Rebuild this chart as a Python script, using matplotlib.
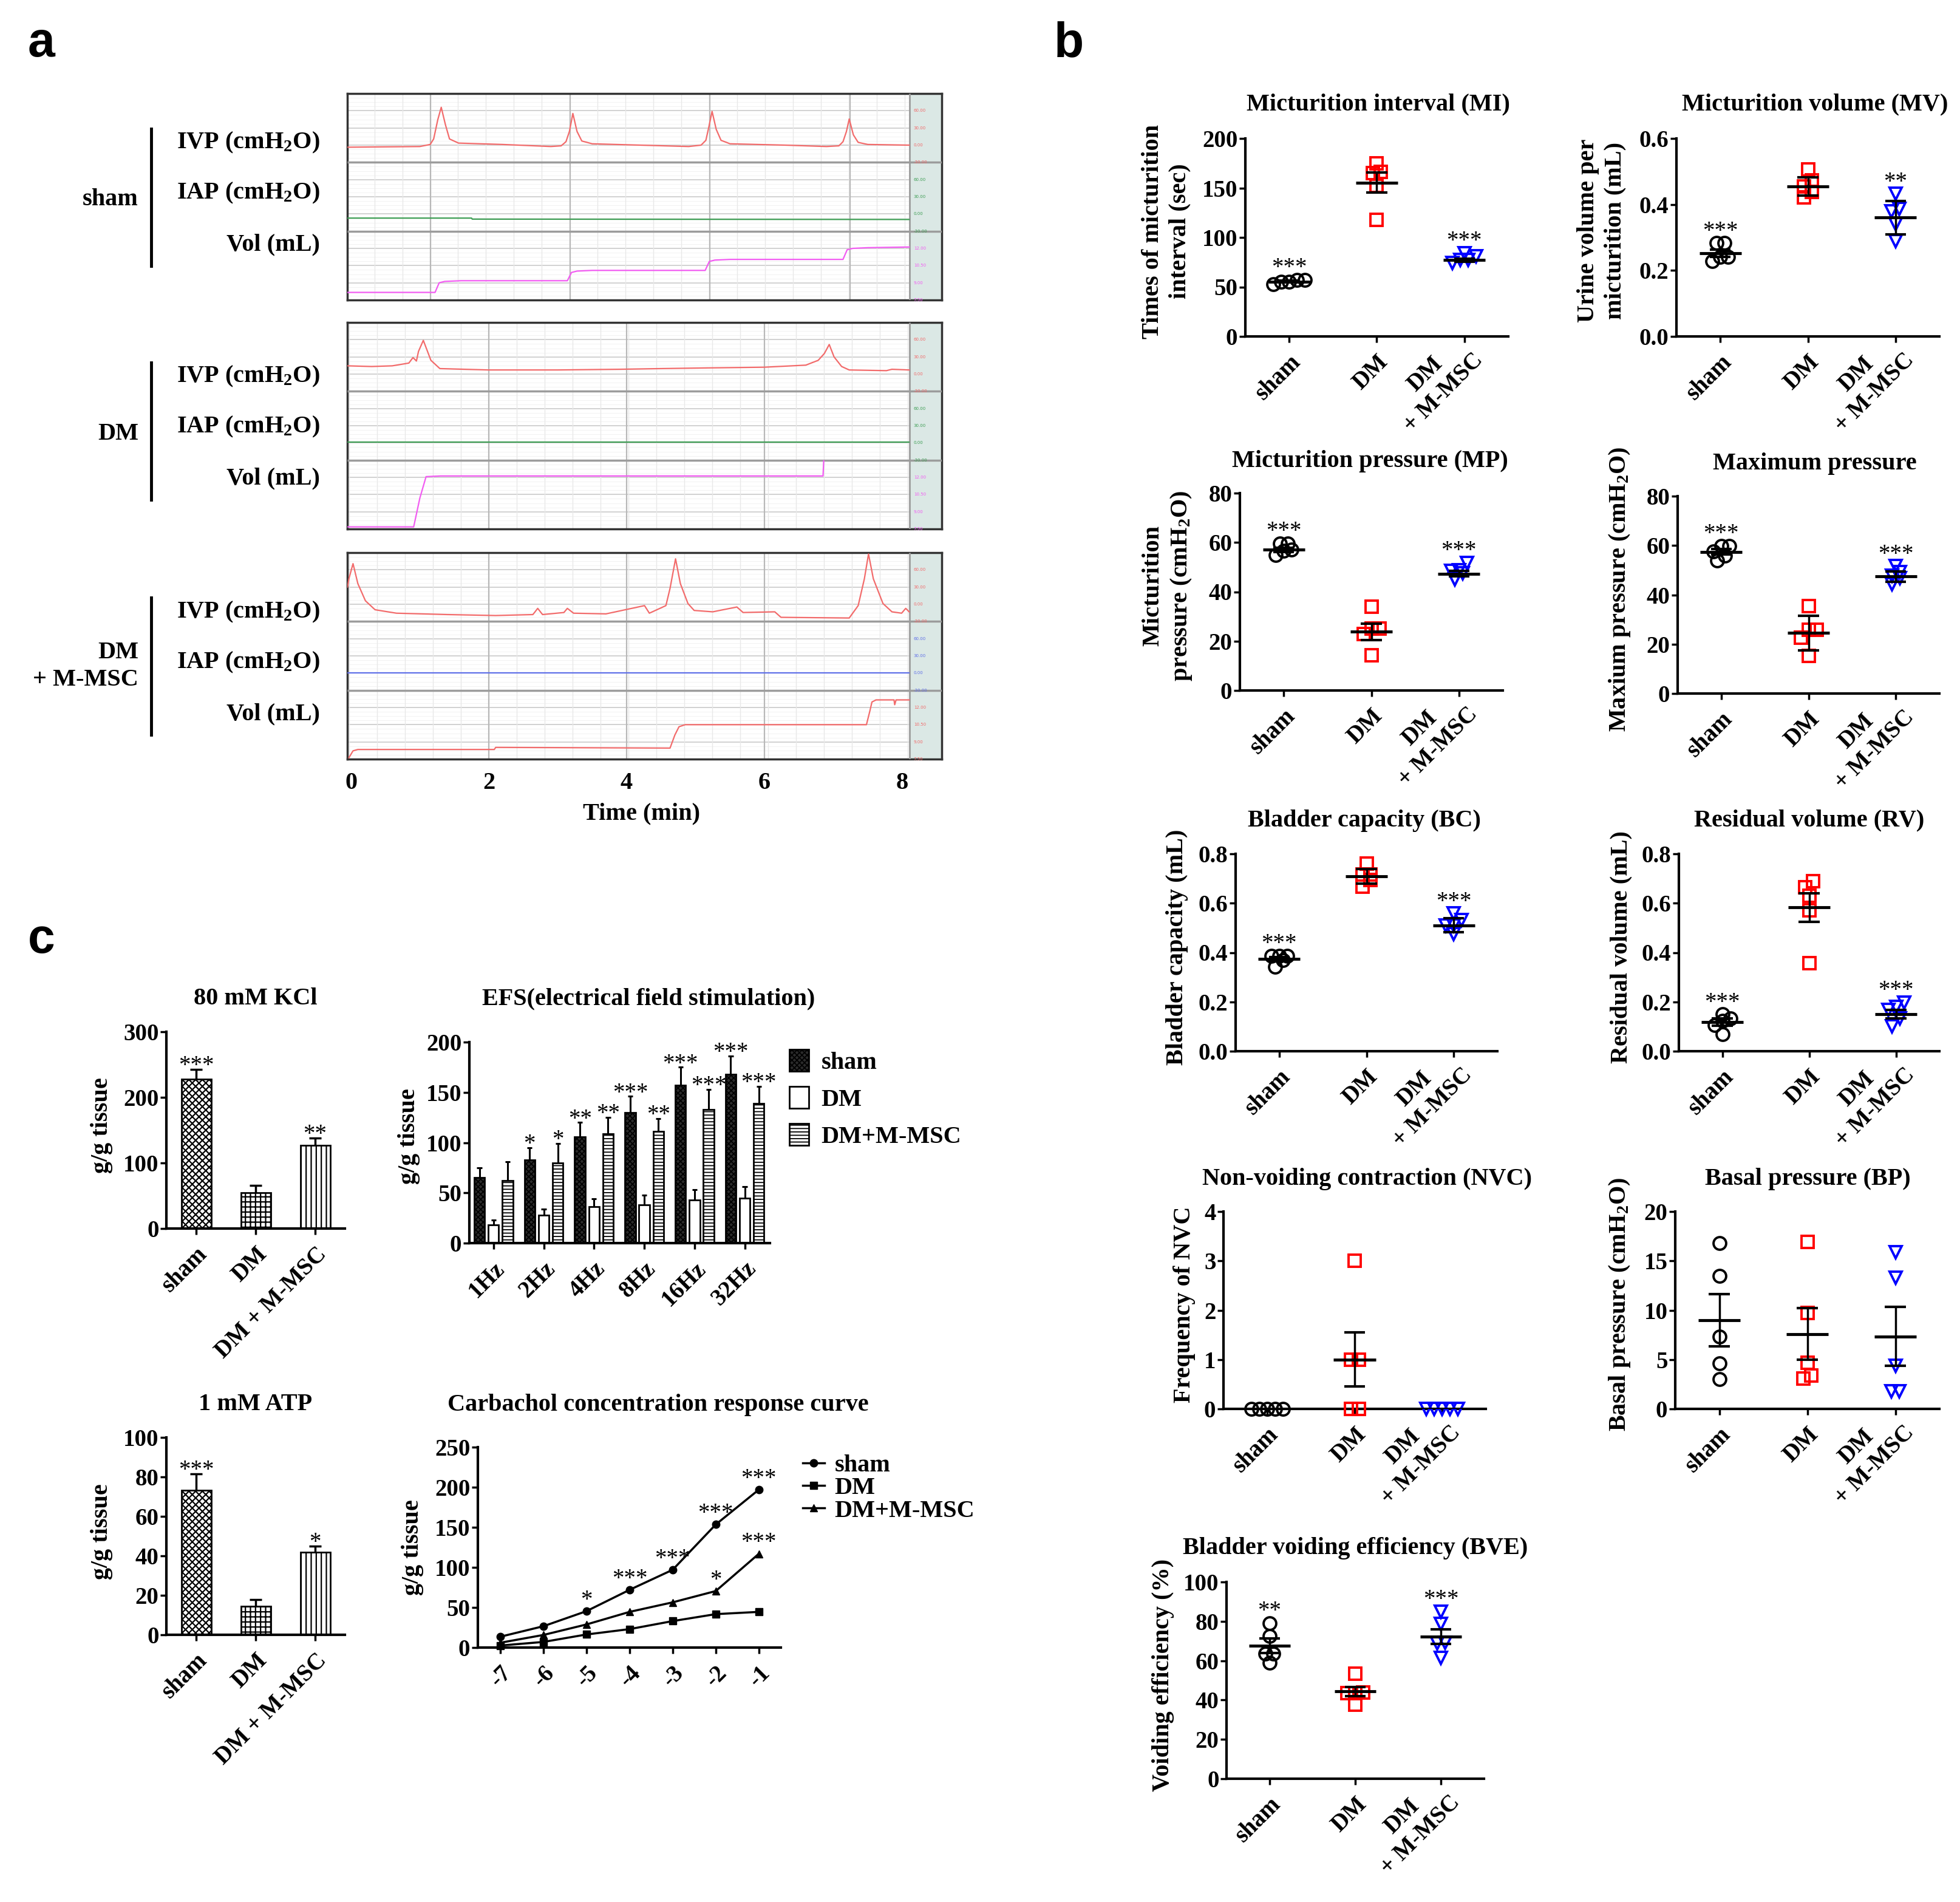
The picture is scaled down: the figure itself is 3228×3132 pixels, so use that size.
import numpy as np
import matplotlib
matplotlib.use('Agg')
import matplotlib.pyplot as plt
from matplotlib.lines import Line2D
from matplotlib.patches import Patch

plt.rcParams['font.family'] = 'Liberation Serif'
plt.rcParams['font.weight'] = 'bold'
plt.rcParams['mathtext.fontset'] = 'custom'
plt.rcParams['mathtext.rm'] = 'Liberation Serif:bold'
plt.rcParams['mathtext.bf'] = 'Liberation Serif:bold'
plt.rcParams['mathtext.it'] = 'Liberation Serif:italic:bold'
plt.rcParams['mathtext.default'] = 'bf'

# ---------------- panel a : cystometry traces ----------------
# time in min, level as fraction of the channel strip (read from the recording)
sham_ivp_t = [-0.05, 1.0, 1.15, 1.20, 1.26, 1.31, 1.37, 1.43, 1.56, 2.2, 2.9, 3.05, 3.12, 3.17, 3.22, 3.28, 3.35, 3.5,
              4.2, 4.9, 5.08, 5.15, 5.19, 5.24, 5.30, 5.37, 5.5, 6.3, 6.9, 7.08, 7.14, 7.19, 7.23, 7.29, 7.36, 7.5, 8.1]
sham_ivp_v = [0.22, 0.23, 0.26, 0.34, 0.62, 0.80, 0.55, 0.34, 0.28, 0.26, 0.23, 0.24, 0.30, 0.45, 0.71, 0.45, 0.31, 0.27,
              0.25, 0.23, 0.25, 0.32, 0.50, 0.74, 0.48, 0.32, 0.27, 0.25, 0.23, 0.24, 0.30, 0.45, 0.63, 0.40, 0.29, 0.26, 0.25]
sham_iap_t = [-0.05, 1.75, 1.76, 8.1]
sham_iap_v = [0.19, 0.19, 0.175, 0.17]
sham_vol_t = [-0.05, 1.22, 1.28, 1.36, 1.6, 3.14, 3.2, 3.28, 3.5, 5.14, 5.2, 5.28, 5.5, 7.14, 7.2, 7.28, 7.5, 8.1]
sham_vol_v = [0.11, 0.11, 0.25, 0.27, 0.28, 0.28, 0.40, 0.42, 0.43, 0.43, 0.56, 0.58, 0.59, 0.59, 0.73, 0.75, 0.76, 0.77]

dm_ivp_t = [-0.05, 0.3, 0.6, 0.84, 0.90, 0.95, 0.98, 1.05, 1.16, 1.29, 2.0, 3.0, 3.9, 4.5, 5.2, 6.0, 6.6, 6.78, 6.87,
            6.94, 7.01, 7.12, 7.23, 7.77, 7.85, 8.1]
dm_ivp_v = [0.37, 0.36, 0.37, 0.41, 0.49, 0.44, 0.58, 0.74, 0.45, 0.33, 0.31, 0.31, 0.32, 0.33, 0.34, 0.35, 0.38, 0.45, 0.55,
            0.68, 0.50, 0.36, 0.31, 0.30, 0.32, 0.31]
dm_iap_t = [-0.05, 8.1]
dm_iap_v = [0.26, 0.26]
dm_vol_t = [-0.05, 0.91, 1.0, 1.09, 1.3, 6.85, 6.86]
dm_vol_v = [0.03, 0.03, 0.45, 0.76, 0.77, 0.77, 0.99]

msc_ivp_t = [-0.05, -0.03, 0.03, 0.10, 0.21, 0.35, 0.66, 1.4, 2.10, 2.64, 2.71, 2.78, 3.09, 3.14, 3.23, 3.7, 4.26, 4.33,
             4.57, 4.63, 4.71, 4.78, 4.89, 4.98, 5.25, 5.60, 5.69, 6.15, 6.24, 7.23, 7.36, 7.45, 7.51, 7.58, 7.72, 7.85,
             7.99, 8.05, 8.1]
msc_ivp_v = [0.50, 0.62, 0.84, 0.55, 0.30, 0.17, 0.12, 0.10, 0.086, 0.10, 0.19, 0.10, 0.13, 0.19, 0.12, 0.11, 0.23, 0.12,
             0.23, 0.48, 0.91, 0.55, 0.26, 0.16, 0.14, 0.21, 0.13, 0.14, 0.06, 0.05, 0.23, 0.62, 0.98, 0.62, 0.26, 0.14,
             0.12, 0.19, 0.14]
msc_iap_t = [-0.05, 8.1]
msc_iap_v = [0.25, 0.25]
msc_vol_t = [-0.03, 0.03, 0.10, 2.08, 2.10, 4.63, 4.70, 4.76, 4.85, 7.48, 7.53, 7.56, 7.62, 7.88, 7.89, 7.91, 8.1]
msc_vol_v = [0.02, 0.12, 0.14, 0.14, 0.17, 0.16, 0.35, 0.47, 0.50, 0.50, 0.70, 0.83, 0.86, 0.86, 0.79, 0.86, 0.86]

time_ticks = [0, 2, 4, 6, 8]
ivp_scale = ['-30.00', '0.00', '30.00', '60.00']
iap_scale = ['-30.00', '0.00', '30.00', '60.00']
vol_scale = ['7.50', '9.00', '10.50', '12.00']

# ---------------- panel b : cystometry parameters (n=5) ----------------
groups = ['sham', 'DM', 'DM\n+ M-MSC']

mi_sham = [57, 55, 53, 55, 57]
mi_dm = [165, 175, 166, 152, 118]
mi_msc = [84, 77, 74, 77, 81]
mi_mean = [55.5, 155.5, 77]
mi_sem = [1.0, 10.3, 1.8]
mi_stars = ['***', '', '***']

mv_sham = [0.283, 0.283, 0.241, 0.228, 0.241]
mv_dm = [0.506, 0.454, 0.473, 0.438, 0.421]
mv_msc = [0.432, 0.380, 0.386, 0.341, 0.289]
mv_mean = [0.253, 0.455, 0.36]
mv_sem = [0.011, 0.028, 0.05]
mv_stars = ['***', '', '**']

mp_sham = [59.6, 59.6, 56.5, 54.8, 57.0]
mp_dm = [34, 25, 25, 23, 14.3]
mp_msc = [51.7, 48.6, 48.8, 45.0, 47.5]
mp_mean = [57.0, 23.8, 47.3]
mp_sem = [0.9, 3.3, 1.1]
mp_stars = ['***', '', '***']

maxp_sham = [59.8, 59.8, 56.0, 54.0, 57.5]
maxp_dm = [35.4, 25.9, 25.9, 22.7, 15.2]
maxp_msc = [51.6, 47.7, 49.3, 44.2, 46.8]
maxp_mean = [57.4, 24.6, 47.4]
maxp_sem = [1.1, 7.0, 2.0]
maxp_stars = ['***', '', '***']

bc_sham = [0.387, 0.387, 0.387, 0.369, 0.343]
bc_dm = [0.760, 0.716, 0.716, 0.694, 0.668]
bc_msc = [0.558, 0.532, 0.510, 0.510, 0.475]
bc_mean = [0.373, 0.709, 0.51]
bc_sem = [0.008, 0.029, 0.028]
bc_stars = ['***', '', '***']

rv_sham = [0.149, 0.132, 0.123, 0.105, 0.070]
rv_dm = [0.690, 0.664, 0.629, 0.572, 0.356]
rv_msc = [0.198, 0.180, 0.167, 0.132, 0.101]
rv_mean = [0.118, 0.583, 0.151]
rv_sem = [0.014, 0.058, 0.017]
rv_stars = ['***', '', '***']

nvc_sham = [0, 0, 0, 0, 0]
nvc_dm = [3, 1, 1, 0, 0]
nvc_msc = [0, 0, 0, 0, 0]
nvc_mean = [0, 1.0, 0]
nvc_sem = [0, 0.545, 0]
nvc_stars = ['', '', '']

bp_sham = [16.8, 13.5, 7.3, 4.6, 3.0]
bp_dm = [16.9, 9.7, 4.65, 3.1, 3.4]
bp_msc = [15.9, 13.3, 4.4, 1.8, 1.8]
bp_mean = [9.0, 7.6, 7.35]
bp_sem = [2.65, 2.6, 3.0]
bp_stars = ['', '', '']

bve_sham = [79.0, 72.5, 63.7, 63.7, 59.0]
bve_dm = [53.4, 43.4, 43.8, 43.4, 37.8]
bve_msc = [84.9, 78.6, 69.2, 68.7, 61.5]
bve_mean = [67.6, 44.3, 72.2]
bve_sem = [3.6, 2.3, 3.8]
bve_stars = ['**', '', '***']

# ---------------- panel c : organ bath ----------------
bar_groups = ['sham', 'DM', 'DM + M-MSC']
kcl_mean = [228, 55, 127]
kcl_sem = [15, 11, 11]
kcl_stars = ['***', '', '**']
atp_mean = [73.2, 14.4, 41.8]
atp_sem = [8.3, 3.4, 3.2]
atp_stars = ['***', '', '*']

efs_freq = ['1Hz', '2Hz', '4Hz', '8Hz', '16Hz', '32Hz']
efs_sham = [65, 83, 106, 130, 157, 168]
efs_sham_sem = [10, 12, 14, 16, 18, 18]
efs_dm = [18, 28, 36, 38, 43, 45]
efs_dm_sem = [5, 6, 8, 10, 10, 11]
efs_msc = [62, 80, 109, 111, 133, 139]
efs_msc_sem = [19, 19, 16, 13, 20, 17]
efs_sham_stars = ['', '*', '**', '***', '***', '***']
efs_msc_stars = ['', '*', '**', '**', '***', '***']

cch_logc = [-7, -6, -5, -4, -3, -2, -1]
cch_sham = [13.5, 26.6, 45.4, 72, 97, 153.5, 197]
cch_dm = [2.5, 7, 16.3, 23, 33, 41.7, 44.5]
cch_msc = [6, 15.7, 28.8, 44.5, 56.4, 70.5, 117]
cch_sham_stars = ['', '', '*', '***', '***', '***', '***']
cch_msc_stars = ['', '', '', '', '', '*', '***']

# ------------------------------------------------------------
W, H = 3228, 3132
fig = plt.figure(figsize=(W / 100, H / 100), dpi=100)


def rect(x0, y0, x1, y1):
    return [x0 / W, 1 - y1 / H, (x1 - x0) / W, (y1 - y0) / H]


def ftext(x, y, s, **kw):
    return fig.text(x / W, 1 - y / H, s, **kw)


FS = 29

# ---- panel a
T0, T1, TS = -0.0529, 8.5727, 8.106


def trace_box(y0, y1, traces, colors, majors):
    ax = fig.add_axes(rect(572, y0, 1551, y1))
    ax.set_xlim(T0, T1)
    ax.set_ylim(0, 3)
    ax.set_xticks([])
    ax.set_yticks([])
    for sp in ax.spines.values():
        sp.set_color('#333333')
        sp.set_linewidth(2.5)
    ax.axvspan(TS, T1, color='#dbe8e5', zorder=0)
    for k in range(3):
        ax.hlines(k + np.arange(1, 16) / 16, T0, TS, color='#f0f0f0', lw=0.6, zorder=1)
        ax.hlines(k + np.array([0.25, 0.5, 0.75]), T0, TS, color='#cfcfcf', lw=1.3, zorder=1)
    minor = majors[0] + 0.405 * np.arange(-10, 30)
    minor = minor[(minor > T0) & (minor < TS)]
    ax.vlines(minor, 0, 3, color='#e8e8e8', lw=1, zorder=1)
    ax.vlines(majors, 0, 3, color='#b8b8b8', lw=1.6, zorder=1)
    ax.hlines([1, 2], T0, T1, color='#9c9c9c', lw=2.5, zorder=3)
    ax.vlines(TS, 0, 3, color='#9c9c9c', lw=2, zorder=3)
    for k, (t, v) in enumerate(traces):
        ax.plot(t, 2 - k + np.array(v), color=colors[k], lw=1.6, zorder=4)
    for k, labs in enumerate([ivp_scale, iap_scale, vol_scale]):
        for j, s in enumerate(labs):
            ax.text(TS + 0.06, 2 - k + 0.25 * j, s, fontsize=5, color=colors[k],
                    family='DejaVu Sans', weight='normal', va='center')
    return ax


trace_box(154, 494, [(sham_ivp_t, sham_ivp_v), (sham_iap_t, sham_iap_v), (sham_vol_t, sham_vol_v)],
          ['#f26b6b', '#3f9e55', '#f25cf2'], [1.15, 3.18, 5.21, 7.24])
trace_box(531, 871, [(dm_ivp_t, dm_ivp_v), (dm_iap_t, dm_iap_v), (dm_vol_t, dm_vol_v)],
          ['#f26b6b', '#3f9e55', '#f25cf2'], [2.0, 4.0, 6.0])
ax3 = trace_box(910, 1250, [(msc_ivp_t, msc_ivp_v), (msc_iap_t, msc_iap_v), (msc_vol_t, msc_vol_v)],
                ['#f26b6b', '#6070e8', '#f26b6b'], [2.0, 4.0, 6.0])
ax3.set_xticks(time_ticks)
ax3.set_xticklabels([str(t) for t in time_ticks], fontsize=FS)
ax3.tick_params(axis='x', length=0, pad=15)
ftext(1056, 1340, 'Time (min)', fontsize=FS, ha='center', va='center')

chan = ['IVP (cmH$_2$O)', 'IAP (cmH$_2$O)', 'Vol (mL)']
for ys, (gy, glab), (b0, b1) in zip([(235, 318, 403), (620, 703, 788), (1008, 1091, 1176)],
                                    [(328, 'sham'), (714, 'DM'), (1097, 'DM\n+ M-MSC')],
                                    [(212, 438), (597, 823), (984, 1210)]):
    for y, s in zip(ys, chan):
        ftext(527, y, s, fontsize=FS, ha='right', va='center')
    ftext(228, gy, glab, fontsize=FS, ha='right', va='center', multialignment='right', linespacing=1.3)
    fig.add_artist(Line2D([249 / W, 249 / W], [1 - b0 / H, 1 - b1 / H], color='black', lw=3.5))

# ---- panel b
markers = ['o', 's', 'v']
mcolors = ['black', '#ff0000', '#0000ff']


def spread(vals, ppu_y, ppu_x, gap=13, dx=13):
    vals = np.asarray(vals, dtype=float)
    order = np.argsort(vals)
    offs = np.zeros(len(vals))
    bins = []
    for i in order:
        if bins and (vals[i] - vals[bins[-1][0]]) * ppu_y < gap:
            bins[-1].append(i)
        else:
            bins.append([i])
    for b in bins:
        n = len(b)
        for k, i in enumerate(b):
            offs[i] = (k - (n - 1) / 2) * dx / ppu_x
    return offs


def style_axes(ax, lw=3):
    for s in ['top', 'right']:
        ax.spines[s].set_visible(False)
    for s in ['left', 'bottom']:
        ax.spines[s].set_linewidth(lw)
    ax.tick_params(direction='out', length=7, width=2.5, labelsize=28, pad=2)


def dot_plot(box, data, means, sems, ymax, ticks, fmt, stars, title, txy, ylabel, lxy):
    x0, y0, x1, y1 = box
    ax = fig.add_axes(rect(x0, y0, x1, y1))
    ax.set_xlim(-0.5, 2.5)
    ax.set_ylim(0, ymax)
    style_axes(ax)
    ppu_x = (x1 - x0) / 3.0
    ppu_y = (y1 - y0) / ymax
    for i, vals in enumerate(data):
        off = spread(vals, ppu_y, ppu_x)
        ax.plot(i + off, vals, ls='none', marker=markers[i], mfc='none', mec=mcolors[i],
                ms=15, mew=2.8, clip_on=False, zorder=3)
        m, s = means[i], sems[i]
        ax.hlines(m, i - 0.24, i + 0.24, color='black', lw=3.5, zorder=4)
        if s > 0:
            ax.vlines(i, m - s, m + s, color='black', lw=2.5, zorder=4)
            ax.hlines([m - s, m + s], i - 0.12, i + 0.12, color='black', lw=3, zorder=4)
        if stars[i]:
            ax.annotate(stars[i], (i, max(vals)), xytext=(0, 7), textcoords='offset points',
                        ha='center', va='baseline', fontsize=28, weight='normal')
    ax.set_yticks(ticks)
    ax.set_yticklabels([fmt % t for t in ticks])
    ax.set_xticks([0, 1, 2])
    ax.set_xticklabels(groups[:2] + [''], rotation=45, ha='right', va='top', rotation_mode='anchor',
                       fontsize=28)
    ax.tick_params(axis='x', pad=10)
    # two-line label: last line sits where a one-line label would, first line above it
    ax.annotate(groups[2], (2, 0), xycoords=('data', 'axes fraction'), xytext=(-13, 7),
                textcoords='offset points', rotation=45, ha='right', va='top', rotation_mode='anchor',
                multialignment='center', fontsize=28, annotation_clip=False)
    ftext(txy[0], txy[1], title, fontsize=FS, ha='center', va='center')
    ftext(lxy[0], lxy[1], ylabel, fontsize=FS, ha='center', va='center', rotation=90,
          multialignment='center', linespacing=1.25)
    return ax


dot_plot((2051, 228, 2484, 554), [mi_sham, mi_dm, mi_msc], mi_mean, mi_sem, 200, [0, 50, 100, 150, 200], '%d',
         mi_stars, 'Micturition interval (MI)', (2270, 172), 'Times of micturition\ninterval (sec)', (1921, 381))
dot_plot((2761, 228, 3194, 554), [mv_sham, mv_dm, mv_msc], mv_mean, mv_sem, 0.6, [0, 0.2, 0.4, 0.6], '%.1f',
         mv_stars, 'Micturition volume (MV)', (2989, 172), 'Urine volume per\nmicturition (mL)', (2638, 380))
dot_plot((2042, 812, 2475, 1137), [mp_sham, mp_dm, mp_msc], mp_mean, mp_sem, 80, [0, 20, 40, 60, 80], '%d',
         mp_stars, 'Micturition pressure (MP)', (2256, 759), 'Micturition\npressure (cmH$_2$O)', (1923, 965))
dot_plot((2763, 817, 3194, 1142), [maxp_sham, maxp_dm, maxp_msc], maxp_mean, maxp_sem, 80, [0, 20, 40, 60, 80],
         '%d', maxp_stars, 'Maximum pressure', (2989, 763), 'Maxium pressure (cmH$_2$O)', (2667, 970))
dot_plot((2035, 1406, 2466, 1731), [bc_sham, bc_dm, bc_msc], bc_mean, bc_sem, 0.8, [0, 0.2, 0.4, 0.6, 0.8], '%.1f',
         bc_stars, 'Bladder capacity (BC)', (2247, 1351), 'Bladder capacity (mL)', (1939, 1560))
dot_plot((2765, 1406, 3194, 1731), [rv_sham, rv_dm, rv_msc], rv_mean, rv_sem, 0.8, [0, 0.2, 0.4, 0.6, 0.8], '%.1f',
         rv_stars, 'Residual volume (RV)', (2980, 1351), 'Residual volume (mL)', (2670, 1560))
dot_plot((2015, 1995, 2447, 2320), [nvc_sham, nvc_dm, nvc_msc], nvc_mean, nvc_sem, 4, [0, 1, 2, 3, 4], '%d',
         nvc_stars, 'Non-voiding contraction (NVC)', (2252, 1941), 'Frequency of NVC', (1951, 2148))
dot_plot((2759, 1995, 3194, 2320), [bp_sham, bp_dm, bp_msc], bp_mean, bp_sem, 20, [0, 5, 10, 15, 20], '%d',
         bp_stars, 'Basal pressure (BP)', (2977, 1941), 'Basal pressure (cmH$_2$O)', (2667, 2148))
dot_plot((2020, 2605, 2444, 2929), [bve_sham, bve_dm, bve_msc], bve_mean, bve_sem, 100, [0, 20, 40, 60, 80, 100],
         '%d', bve_stars, 'Bladder voiding efficiency (BVE)', (2232, 2550), 'Voiding efficiency (%)', (1915, 2758))

# ---- panel c
bar_hatch = ['xxx', '++', '||']


def bar_plot(box, means, sems, stars, ymax, ticks, title, txy, lxy):
    x0, y0, x1, y1 = box
    ax = fig.add_axes(rect(x0, y0, x1, y1))
    ax.set_xlim(-0.5, 2.5)
    ax.set_ylim(0, ymax)
    style_axes(ax)
    x = np.arange(3)
    plt.rcParams['hatch.linewidth'] = 1.6
    for i in range(3):
        ax.bar(x[i], means[i], width=0.5, color='white', edgecolor='black', lw=2, hatch=bar_hatch[i], zorder=2)
    tops = np.array(means) + np.array(sems)
    ax.vlines(x, means, tops, color='black', lw=2.5, zorder=3)
    ax.hlines(tops, x - 0.1, x + 0.1, color='black', lw=2.5, zorder=3)
    for i in range(3):
        if stars[i]:
            ax.annotate(stars[i], (x[i], tops[i]), xytext=(0, -3), textcoords='offset points',
                        ha='center', va='baseline', fontsize=28, weight='normal')
    ax.set_yticks(ticks)
    ax.set_xticks(x)
    ax.set_xticklabels(bar_groups, rotation=45, ha='right', va='top', rotation_mode='anchor', fontsize=28)
    ax.tick_params(axis='x', pad=10)
    ftext(txy[0], txy[1], title, fontsize=FS, ha='center', va='center')
    ftext(lxy[0], lxy[1], 'g/g tissue', fontsize=FS, ha='center', va='center', rotation=90)
    return ax


bar_plot((274, 1699, 568, 2023), kcl_mean, kcl_sem, kcl_stars, 300, [0, 100, 200, 300], '80 mM KCl', (421, 1645),
         (168, 1853))
bar_plot((274, 2367, 568, 2692), atp_mean, atp_sem, atp_stars, 100, [0, 20, 40, 60, 80, 100], '1 mM ATP',
         (421, 2313), (168, 2522))

# EFS grouped bars
ax = fig.add_axes(rect(773, 1716, 1268, 2047))
ax.set_xlim(-0.48, 5.5)
ax.set_ylim(0, 200)
style_axes(ax)
xg = np.arange(len(efs_freq))
efs_series = [(efs_sham, efs_sham_sem, '#2b2b2b', 'xxxx', -0.28),
              (efs_dm, efs_dm_sem, 'white', '', 0.0),
              (efs_msc, efs_msc_sem, 'white', '---', 0.28)]
plt.rcParams['hatch.linewidth'] = 1.3
for vals, sem, fc, hat, dx in efs_series:
    ax.bar(xg + dx, vals, width=0.21, color=fc, edgecolor='black', lw=2, hatch=hat, zorder=2)
    tops = np.array(vals) + np.array(sem)
    ax.vlines(xg + dx, vals, tops, color='black', lw=2.2, zorder=3)
    ax.hlines(tops, xg + dx - 0.05, xg + dx + 0.05, color='black', lw=2.2, zorder=3)
for stars, vals, sem, dx in [(efs_sham_stars, efs_sham, efs_sham_sem, -0.28),
                             (efs_msc_stars, efs_msc, efs_msc_sem, 0.28)]:
    for i, s in enumerate(stars):
        if s:
            ax.annotate(s, (i + dx, vals[i] + sem[i]), xytext=(0, -3), textcoords='offset points',
                        ha='center', va='baseline', fontsize=28, weight='normal')
ax.set_yticks([0, 50, 100, 150, 200])
ax.set_xticks(xg)
ax.set_xticklabels(efs_freq, rotation=45, ha='right', va='top', rotation_mode='anchor', fontsize=28)
ax.tick_params(axis='x', pad=10)
ftext(1068, 1645, 'EFS(electrical field stimulation)', fontsize=FS, ha='center', va='center')
ftext(673, 1871, 'g/g tissue', fontsize=FS, ha='center', va='center', rotation=90)
efs_handles = [Patch(facecolor='#2b2b2b', edgecolor='black', hatch='xxxx', lw=2),
               Patch(facecolor='white', edgecolor='black', lw=2),
               Patch(facecolor='white', edgecolor='black', hatch='---', lw=2)]
fig.legend(efs_handles, ['sham', 'DM', 'DM+M-MSC'], loc='upper left', bbox_to_anchor=(1300 / W, 1 - 1728 / H),
           frameon=False, fontsize=FS, handlelength=0.8, handleheight=1.0, handletextpad=0.5,
           labelspacing=0.5, borderpad=0, borderaxespad=0)

# Carbachol concentration response
ax = fig.add_axes(rect(787, 2383, 1286, 2713))
ax.set_xlim(-7.52, -0.49)
ax.set_ylim(0, 250)
style_axes(ax)
ax.plot(cch_logc, cch_sham, color='black', lw=2.5, marker='o', ms=9, clip_on=False, zorder=3)
ax.plot(cch_logc, cch_dm, color='black', lw=2.5, marker='s', ms=9, clip_on=False, zorder=3)
ax.plot(cch_logc, cch_msc, color='black', lw=2.5, marker='^', ms=9, clip_on=False, zorder=3)
for stars, vals in [(cch_sham_stars, cch_sham), (cch_msc_stars, cch_msc)]:
    for c, s, v in zip(cch_logc, stars, vals):
        if s:
            ax.annotate(s, (c, v), xytext=(0, 6), textcoords='offset points',
                        ha='center', va='baseline', fontsize=28, weight='normal')
ax.set_yticks([0, 50, 100, 150, 200, 250])
ax.set_xticks(cch_logc)
ax.set_xticklabels(['%d' % c for c in cch_logc], rotation=45, ha='right', va='top', rotation_mode='anchor',
                   fontsize=28)
ax.tick_params(axis='x', pad=10)
ftext(1084, 2313, 'Carbachol concentration response curve', fontsize=FS, ha='center', va='center')
ftext(679, 2548, 'g/g tissue', fontsize=FS, ha='center', va='center', rotation=90)
cch_handles = [Line2D([0], [0], color='black', lw=2.5, marker=m, ms=9) for m in ['o', 's', '^']]
fig.legend(cch_handles, ['sham', 'DM', 'DM+M-MSC'], loc='upper left', bbox_to_anchor=(1322 / W, 1 - 2395 / H),
           frameon=False, fontsize=FS, handlelength=0.9, handletextpad=0.4, labelspacing=0.0,
           borderpad=0, borderaxespad=0)

# panel letters
for x, y, s in [(68, 72, 'a'), (1760, 72, 'b'), (68, 1548, 'c')]:
    ftext(x, y, s, fontsize=58, family='Liberation Sans', weight='bold', ha='center', va='center')

fig.savefig('out.png', dpi=100, facecolor='white')
